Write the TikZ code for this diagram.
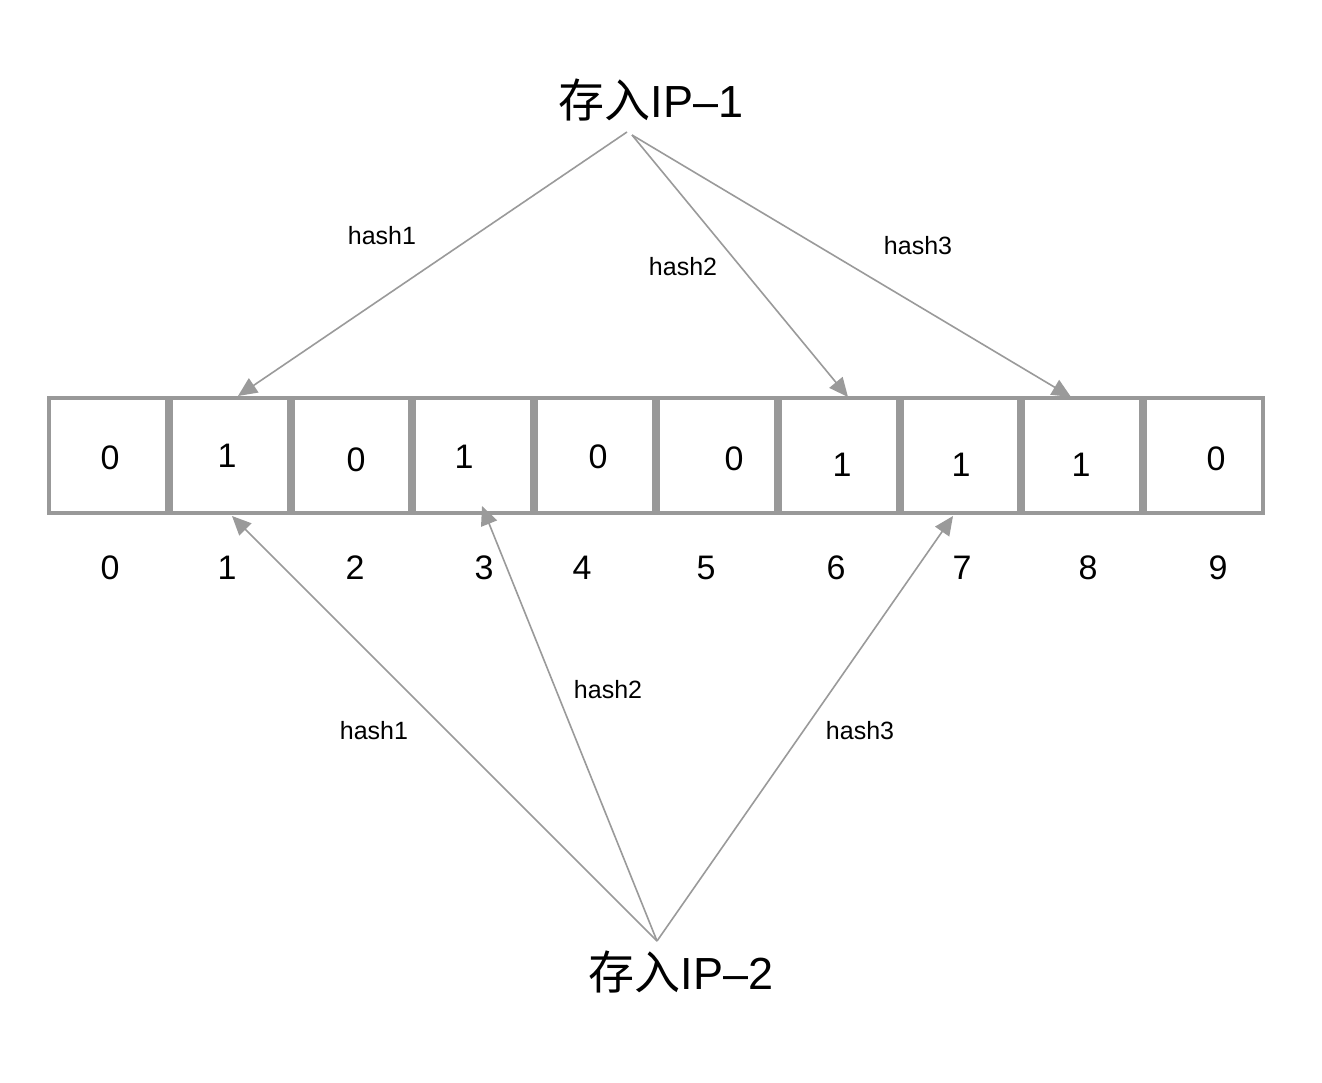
\documentclass[tikz,border=0pt]{standalone}
\usepackage{fontspec}
\setmainfont{Liberation Sans}
\newfontfamily\cjk{Noto Sans CJK SC}
\usetikzlibrary{arrows.meta}
\definecolor{cellgray}{HTML}{999999}
\definecolor{arrgray}{HTML}{9A9A9A}
\tikzset{
  cell/.style={draw=cellgray, line width=4pt, fill=white, minimum width=117.8pt, minimum height=115pt, inner sep=0pt},
  digit/.style={font=\fontsize{34}{40}\selectfont, inner sep=0pt},
  hashlbl/.style={font=\fontsize{25}{30}\selectfont, inner sep=0pt},
  title/.style={inner sep=0pt},
  link/.style={draw=arrgray, line width=1.6pt, -{Triangle[length=19pt,width=17pt]}, shorten >=0pt},
}
\begin{document}
\begin{tikzpicture}[x=1pt,y=-1pt]
\useasboundingbox[fill=white] (0,0) rectangle (1322,1082);
% cells
\foreach \i in {0,...,9}{
  \node[cell] (b\i) at ({47+121.8*\i+60.9},455.5) {};
}
% cell values
\node[digit] (v0) at (110,458) {0};
\node[digit] (v1) at (227,456) {1};
\node[digit] (v2) at (356,460) {0};
\node[digit] (v3) at (464,457) {1};
\node[digit] (v4) at (598,457) {0};
\node[digit] (v5) at (734,459) {0};
\node[digit] (v6) at (842,465) {1};
\node[digit] (v7) at (961,465) {1};
\node[digit] (v8) at (1081,465) {1};
\node[digit] (v9) at (1216,459) {0};
% indices
\node[digit] (i0) at (110,568) {0};
\node[digit] (i1) at (227,568) {1};
\node[digit] (i2) at (355,568) {2};
\node[digit] (i3) at (484,568) {3};
\node[digit] (i4) at (582,568) {4};
\node[digit] (i5) at (706,568) {5};
\node[digit] (i6) at (836,568) {6};
\node[digit] (i7) at (962,568) {7};
\node[digit] (i8) at (1088,568) {8};
\node[digit] (i9) at (1218,568) {9};
% titles
\node[title] (ip1) at (651,100) {{\cjk\fontsize{46}{52}\selectfont 存入}{\fontsize{45}{52}\selectfont IP–1}};
\node[title] (ip2) at (681,972) {{\cjk\fontsize{46}{52}\selectfont 存入}{\fontsize{45}{52}\selectfont IP–2}};
% anchor coordinates
\coordinate (a1) at (627,132);
\coordinate (a1b) at (632,135);
\coordinate (a2) at (657,941);
\coordinate (t1) at (238,396);
\coordinate (t6) at (848,397);
\coordinate (t8) at (1071,397);
\coordinate (u1) at (232,516);
\coordinate (u3) at (482,506);
\coordinate (u7) at (953,516);
% connectors
\draw[link] (a1) -- (t1);
\draw[link] (a1b) -- (t6);
\draw[link] (a1b) -- (t8);
\draw[link] (a2) -- (u1);
\draw[link] (a2) -- (u3);
\draw[link] (a2) -- (u7);
% hash labels
\node[hashlbl] (h1a) at (382,236) {hash1};
\node[hashlbl] (h2a) at (683,267) {hash2};
\node[hashlbl] (h3a) at (918,246) {hash3};
\node[hashlbl] (h1b) at (374,731) {hash1};
\node[hashlbl] (h2b) at (608,690) {hash2};
\node[hashlbl] (h3b) at (860,731) {hash3};
\end{tikzpicture}
\end{document}
